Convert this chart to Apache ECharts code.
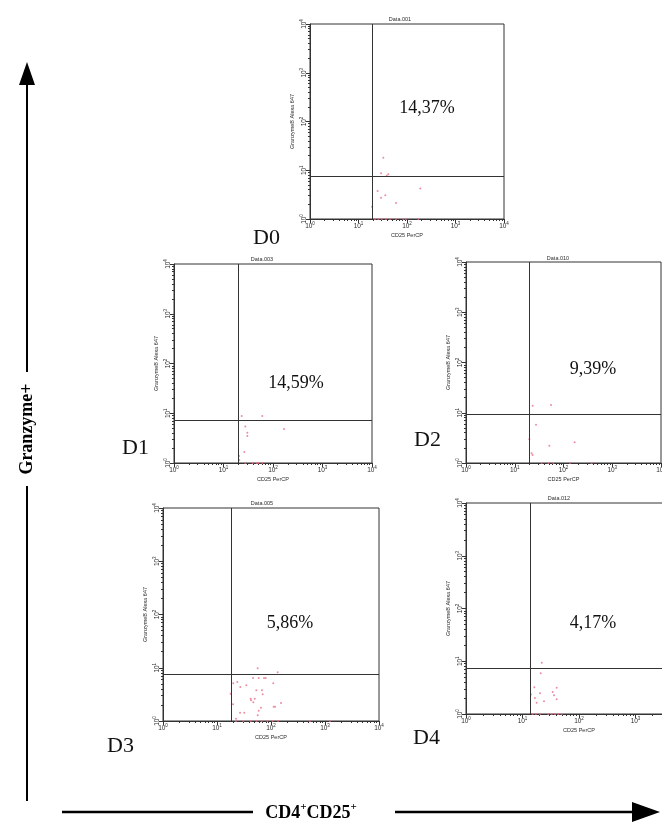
<!DOCTYPE html>
<html>
<head>
<meta charset="utf-8">
<script src="https://cdn.jsdelivr.net/npm/echarts@6/dist/echarts.min.js"></script>
<style>
  html, body { margin: 0; padding: 0; background: #fff; }
  #chart { width: 662px; height: 823px; }
</style>
</head>
<body>
<div id="chart"></div>
<script>
// ---- data -------------------------------------------------------------
const panelNames = ['D0', 'D1', 'D2', 'D3', 'D4'];
const sampleTitles = ['Data.001', 'Data.003', 'Data.010', 'Data.005', 'Data.012'];
const percentLabels = ['14,37%', '14,59%', '9,39%', '5,86%', '4,17%'];
const xAxisTitle = 'CD25 PerCP';
const yAxisTitle = 'GranzymeB Alexa 647';

// quadrant gate thresholds (CD25, GranzymeB)
const gateX = [19, 19.6, 19.9, 18, 13.6];
const gateY = [7.6, 7.3, 9.4, 7.6, 7.45];

// decade ticks and the log minor ticks between them
const majorTicks = [1, 10, 100, 1000, 10000];
const minorTicks = [2, 3, 4, 5, 6, 7, 8, 9, 20, 30, 40, 50, 60, 70, 80, 90,
  200, 300, 400, 500, 600, 700, 800, 900, 2000, 3000, 4000, 5000, 6000, 7000, 8000, 9000];

// events [CD25, GranzymeB]
const eventsD0 = [[32.5, 18.1], [29.1, 8.65], [38.1, 7.7], [41.2, 8.3], [188, 4.2], [24.8, 3.75],
  [35.7, 3.06], [29.1, 2.73], [59.3, 2.13], [19, 1.79],
  [21.9, 1], [25.6, 1], [30, 1], [36.9, 1], [44.6, 1], [59.3, 1], [84, 1], [95, 1], [171, 1]];
const eventsD1 = [[23.3, 8.8], [60.8, 8.8], [27.6, 5.4], [30.3, 4.06], [30.3, 3.49], [167, 4.8],
  [26.3, 1.66], [20.6, 1.38], [20.8, 1.15],
  [27.6, 1], [38.9, 1], [46.8, 1], [50.5, 1], [60.8, 1]];
const eventsD2 = [[23.3, 13.8], [55.4, 14.3], [27.3, 5.8], [19.9, 2.96], [51.2, 2.21], [169.6, 2.58],
  [22.2, 1.56], [23.3, 1.45],
  [35.7, 1], [48.9, 1], [61.7, 1], [136, 1], [378, 1]];
const eventsD3 = [[56.7, 9.8], [133, 8.2], [46.4, 6.4], [59.2, 6.4], [74.2, 6.4], [79.8, 6.4],
  [110, 5.1], [23.8, 5.4], [20, 5.1], [27, 4.35], [34.9, 4.68], [53.4, 3.77], [68.1, 3.77],
  [70.2, 3.17], [17.9, 3.26], [42.1, 2.62], [49.9, 2.62], [42.6, 2.45], [47, 2.24], [153, 2.18],
  [112, 1.86], [119, 1.86], [65.3, 1.78], [59.2, 1.56], [19.8, 2.06], [26.7, 1.43], [32, 1.43],
  [56.7, 1.28], [22.5, 1.1],
  [22.5, 1], [30.7, 1], [42.1, 1], [54.3, 1], [67.2, 1], [85.5, 1], [107, 1], [136, 1], [527, 1], [1238, 1]];
const eventsD4 = [[21.9, 9.4], [21, 5.9], [16.2, 3.2], [20.4, 2.47], [14.1, 2.33], [16.6, 2.01],
  [17.8, 1.64], [24, 1.74], [34.2, 2.61], [40.3, 3.16], [36.1, 2.26], [40.3, 1.9],
  [15.1, 1], [17.3, 1], [20.4, 1], [28.6, 1], [32.9, 1], [37.6, 1], [43, 1], [49.4, 1]];
const panelEvents = [eventsD0, eventsD1, eventsD2, eventsD3, eventsD4];

// ---- layout -----------------------------------------------------------
const plotBoxes = [
  { left: 310, top: 24, width: 194, height: 195 },
  { left: 174, top: 264, width: 198, height: 199 },
  { left: 466, top: 262, width: 195, height: 201 },
  { left: 163, top: 508, width: 216, height: 213 },
  { left: 466, top: 503, width: 226, height: 211 }
];
const titlePos = [[400, 19], [262, 259], [558, 258], [262, 503], [559, 498]];
const percentPos = [[427, 108], [296, 383], [593, 369], [290, 623], [593, 623]];
const dayLabelPos = [[253, 238], [122, 448], [414, 440], [107, 746], [413, 738]];

const SANS = '"Liberation Sans", Arial, sans-serif';
const SERIF = '"Liberation Serif", "Times New Roman", serif';
const INK = '#2b2b2b';

const powerLabel = v => '{b|10}{e|' + Math.round(Math.log10(v)) + '}';
const powerRich = {
  b: { fontSize: 6.5, fontFamily: SANS, color: INK, verticalAlign: 'bottom', lineHeight: 9 },
  e: { fontSize: 4.5, fontFamily: SANS, color: INK, verticalAlign: 'top', lineHeight: 5 }
};

const grids = [], xAxes = [], yAxes = [], series = [], graphics = [];

plotBoxes.forEach((box, i) => {
  grids.push(Object.assign({
    show: true, borderColor: '#333', borderWidth: 1, backgroundColor: 'transparent',
    containLabel: false, outerBoundsMode: 'none'
  }, box));

  const common = { gridIndex: i, type: 'log', logBase: 10, min: 1, max: 10000, splitLine: { show: false } };

  // primary axes: decades, labels, names
  xAxes.push(Object.assign({}, common, {
    position: 'bottom',
    axisLine: { show: true, lineStyle: { color: '#333', width: 1 } },
    axisTick: { show: true, length: 4, customValues: majorTicks, lineStyle: { color: '#333' } },
    axisLabel: { customValues: majorTicks, formatter: powerLabel, rich: powerRich, margin: 2 },
    name: xAxisTitle, nameLocation: 'middle', nameGap: 13,
    nameTextStyle: { fontSize: 5.5, fontFamily: SANS, color: INK }
  }));
  // minor tick overlay
  xAxes.push(Object.assign({}, common, {
    position: 'bottom',
    axisLine: { show: false }, axisLabel: { show: false },
    axisTick: { show: true, length: 2, customValues: minorTicks, lineStyle: { color: '#333' } }
  }));
  yAxes.push(Object.assign({}, common, {
    position: 'left',
    axisLine: { show: true, lineStyle: { color: '#333', width: 1 } },
    axisTick: { show: true, length: 4, customValues: majorTicks, lineStyle: { color: '#333' } },
    axisLabel: { customValues: majorTicks, formatter: powerLabel, rich: powerRich, margin: 2, rotate: 90 },
    name: yAxisTitle, nameLocation: 'middle', nameGap: 15,
    nameTextStyle: { fontSize: 5.5, fontFamily: SANS, color: INK }
  }));
  yAxes.push(Object.assign({}, common, {
    position: 'left',
    axisLine: { show: false }, axisLabel: { show: false },
    axisTick: { show: true, length: 2, customValues: minorTicks, lineStyle: { color: '#333' } }
  }));

  series.push({
    type: 'scatter',
    xAxisIndex: 2 * i, yAxisIndex: 2 * i,
    data: panelEvents[i],
    symbolSize: 2,
    itemStyle: { color: '#e9708a' },
    markLine: {
      silent: true, symbol: 'none', label: { show: false },
      lineStyle: { color: '#333', width: 1, type: 'solid' },
      data: [{ xAxis: gateX[i] }, { yAxis: gateY[i] }]
    }
  });

  graphics.push({
    type: 'text', x: titlePos[i][0], y: titlePos[i][1],
    style: { text: sampleTitles[i], fontSize: 5.5, fontFamily: SANS, fill: INK, align: 'center', verticalAlign: 'middle' }
  });
  graphics.push({
    type: 'text', x: percentPos[i][0], y: percentPos[i][1],
    style: { text: percentLabels[i], fontSize: 18, fontFamily: SERIF, fill: '#111', align: 'center', verticalAlign: 'middle' }
  });
  graphics.push({
    type: 'text', x: dayLabelPos[i][0], y: dayLabelPos[i][1],
    style: { text: panelNames[i], fontSize: 22, fontFamily: SERIF, fill: '#111', align: 'left', verticalAlign: 'middle' }
  });
});

// big direction arrows with their captions
const arrowStroke = { stroke: '#000', lineWidth: 2 };
graphics.push(
  { type: 'line', shape: { x1: 27, y1: 80, x2: 27, y2: 372 }, style: arrowStroke },
  { type: 'line', shape: { x1: 27, y1: 486, x2: 27, y2: 801 }, style: arrowStroke },
  { type: 'polygon', shape: { points: [[19, 85], [35, 85], [27, 62]] }, style: { fill: '#000' } },
  {
    type: 'text', x: 27, y: 429, rotation: Math.PI / 2,
    style: { text: 'Granzyme+', fontSize: 18, fontWeight: 'bold', fontFamily: SERIF, fill: '#000', align: 'center', verticalAlign: 'middle' }
  },
  { type: 'line', shape: { x1: 62, y1: 812, x2: 253, y2: 812 }, style: { stroke: '#000', lineWidth: 2.5 } },
  { type: 'line', shape: { x1: 395, y1: 812, x2: 634, y2: 812 }, style: { stroke: '#000', lineWidth: 2.5 } },
  { type: 'polygon', shape: { points: [[632, 802], [632, 822], [660, 812]] }, style: { fill: '#000' } },
  {
    type: 'text', x: 311, y: 812,
    style: {
      text: '{a|CD4}{s|+}{a|CD25}{s|+}', align: 'center', verticalAlign: 'middle',
      rich: {
        a: { fontSize: 18, fontWeight: 'bold', fontFamily: SERIF, fill: '#000', verticalAlign: 'bottom', lineHeight: 20 },
        s: { fontSize: 11, fontWeight: 'bold', fontFamily: SERIF, fill: '#000', verticalAlign: 'top', lineHeight: 11 }
      }
    }
  }
);

const chart = echarts.init(document.getElementById('chart'), null, { renderer: 'canvas' });
chart.setOption({
  animation: false,
  backgroundColor: '#fff',
  grid: grids,
  xAxis: xAxes,
  yAxis: yAxes,
  series: series,
  graphic: graphics
});
</script>
</body>
</html>
